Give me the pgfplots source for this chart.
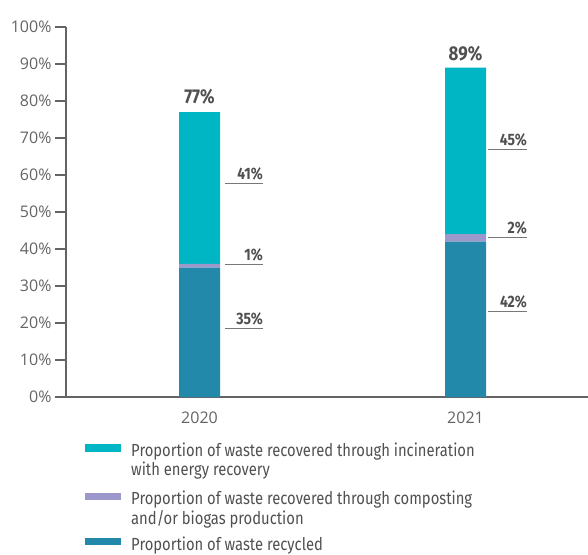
\documentclass[border=0pt]{standalone}
\usepackage{fontspec}
\setmainfont{Open Sans}
\newfontfamily\cond[FakeStretch=0.845]{Fira Sans}
\usepackage{pgfplots}
\pgfplotsset{compat=1.18}
\definecolor{cyanbar}{RGB}{0,181,196}
\definecolor{tealbar}{RGB}{35,137,170}
\definecolor{lavbar}{RGB}{156,152,204}
\definecolor{txtgray}{RGB}{80,80,80}
\definecolor{tickgray}{RGB}{100,100,100}
\definecolor{axgray}{RGB}{100,100,100}
\definecolor{leadgray}{RGB}{120,120,120}
\newcommand{\lead}[4]{%
  \draw[leadgray, line width=1pt] (axis cs:#1,#3) -- (axis cs:#2,#3);
  \node[anchor=base east, inner sep=0pt, yshift=4pt, text=txtgray,
        font=\cond\bfseries\fontsize{16.5}{19}\selectfont] at (axis cs:#2,#3) {#4};}
\newcommand{\lent}[1]{\parbox[t]{400pt}{#1}}
\begin{document}
\begin{tikzpicture}
\path[use as bounding box] (-66pt,-157pt) rectangle (522pt,397pt);
\begin{axis}[
  scale only axis, width=522pt, height=370pt,
  at={(0pt,0pt)}, anchor=south west,
  xmin=-0.5019, xmax=1.4605, ymin=0, ymax=100,
  ybar stacked, bar width=41pt,
  axis x line*=bottom, axis y line*=left,
  axis line style={draw=axgray, line width=1.1pt},
  xtick={0,1}, xticklabels={2020,2021},
  x tick style={draw=none},
  ytick={0,10,...,100},
  yticklabel={\pgfmathprintnumber{\tick}\%},
  y tick style={draw=axgray, line width=1.1pt},
  tick align=outside, major tick length=11pt,
  tick label style={font=\fontsize{16}{19}\selectfont, text=tickgray},
  /pgf/number format/assume math mode=true,
  clip=false,
]
\addplot[fill=tealbar, draw=none] coordinates {(0,35) (1,42)};
\addplot[fill=lavbar, draw=none] coordinates {(0,1) (1,2)};
\addplot[fill=cyanbar, draw=none] coordinates {(0,41) (1,45)};
\node[anchor=base, inner sep=0pt, yshift=9pt, text=txtgray,
  font=\cond\bfseries\fontsize{20}{23}\selectfont] at (axis cs:0,77) {77\%};
\node[anchor=base, inner sep=0pt, yshift=7pt, text=txtgray,
  font=\cond\bfseries\fontsize{20}{23}\selectfont] at (axis cs:1,89) {89\%};
\lead{0.0959}{0.2387}{57.6}{41\%}
\lead{0.0959}{0.2387}{35.7}{1\%}
\lead{0.0959}{0.2387}{18.4}{35\%}
\lead{1.0846}{1.2312}{66.8}{45\%}
\lead{1.0846}{1.2312}{43.0}{2\%}
\lead{1.0846}{1.2312}{23.0}{42\%}
\end{axis}
% legend
\begin{scope}[every node/.style={anchor=base west, inner sep=0pt, text=txtgray,
    font=\cond\fontsize{17.5}{19.5}\selectfont}]
\fill[cyanbar] (19pt,-54.7pt) rectangle (55pt,-47.3pt);
\node at (65pt,-59pt) {\lent{Proportion of waste recovered through incineration\\with energy recovery}};
\fill[lavbar] (19pt,-103.3pt) rectangle (55pt,-96pt);
\node at (65pt,-107.5pt) {\lent{Proportion of waste recovered through composting\\and/or biogas production}};
\fill[tealbar] (19pt,-148.3pt) rectangle (55pt,-141pt);
\node at (65pt,-153pt) {\lent{Proportion of waste recycled}};
\end{scope}
\end{tikzpicture}
\end{document}
